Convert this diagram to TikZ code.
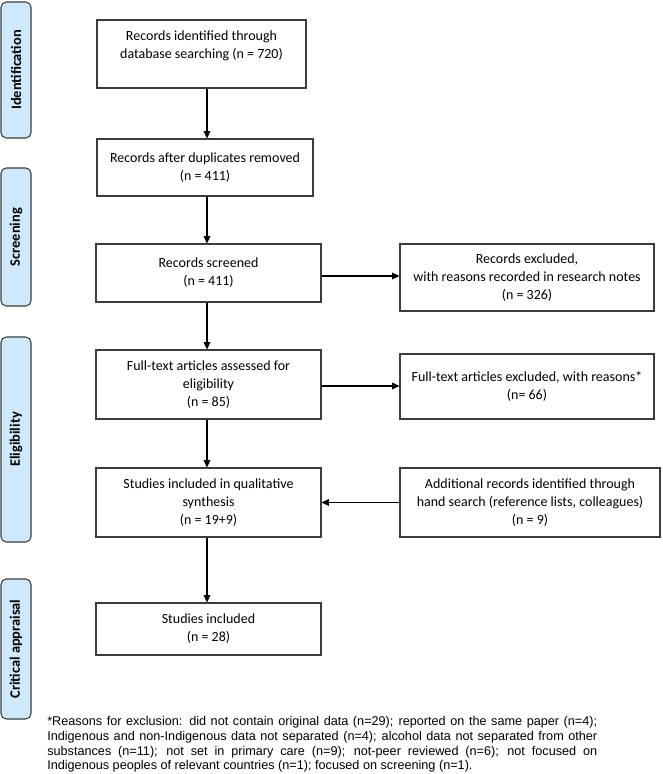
\documentclass[tikz,border=0pt]{standalone}
\usepackage{fontspec}
\setmainfont{Carlito}
\newfontfamily\notefont{Liberation Sans}
\usepackage{tikz}
\usetikzlibrary{positioning,arrows.meta}
\usepackage{xcolor}
\definecolor{stageblue}{RGB}{206,233,252}
\definecolor{boxgray}{RGB}{60,60,60}
\tikzset{mybox/.style={draw=boxgray, line width=0.8pt, fill=white, align=center, inner sep=2pt, font=\fontsize{10.5}{13.5}\selectfont}}
\tikzset{mystage/.style={draw=boxgray, line width=0.8pt, fill=stageblue, rounded corners=4pt, rotate=90, minimum height=22.5pt, inner sep=0pt, font=\bfseries\fontsize{10.8}{12}\selectfont}}
\tikzset{myarrow/.style={-{Triangle[length=5.5pt,width=5pt]}, line width=0.9pt}}

\begin{document}
\begin{tikzpicture}[x=0.75pt,y=-0.75pt]

	\useasboundingbox (0,0) rectangle (662,774);

	% stages on the left
	\node [mystage, minimum width=102pt] (sid) at (16,70) {Identification};
	\node [mystage, minimum width=103.5pt] (ssc) at (16,237) {Screening};
	\node [mystage, minimum width=153.75pt] (sel) at (16,439.5) {Eligibility};
	\node [mystage, minimum width=105pt] (sca) at (16,649) {Critical appraisal};

	% main column
	\node [mybox, minimum width=156.75pt, minimum height=51pt] (b1) at (201.5,54) {Records identified through\\database searching (n = 720)\\ ~};
	\node [mybox, minimum width=162pt, minimum height=42.75pt] (b2) at (205,167.5) {Records after duplicates removed\\(n = 411)};
	\node [mybox, minimum width=168.75pt, minimum height=43.5pt] (b3) at (208.5,273) {Records screened\\(n = 411)};
	\node [mybox, minimum width=168.75pt, minimum height=51.75pt] (b4) at (208.5,384.5) {Full-text articles assessed for\\eligibility\\(n = 85)};
	\node [mybox, minimum width=168.75pt, minimum height=51.75pt] (b5) at (208.5,502.5) {Studies included in qualitative\\synthesis\\(n = 19+9)};
	\node [mybox, minimum width=168.75pt, minimum height=39pt] (b6) at (208.5,629) {Studies included\\(n = 28)};

	% right column
	\node [mybox, minimum width=190.5pt, minimum height=50.25pt] (r1) at (527,277.5) {Records excluded,\\with reasons recorded in research notes\\(n = 326)};
	\node [mybox, minimum width=190.5pt, minimum height=48.75pt] (r2) at (527,386.5) {Full-text articles excluded, with reasons*\\(n= 66)};
	\node [mybox, minimum width=195pt, minimum height=51.75pt] (r3) at (530,502.5) {Additional records identified through\\hand search (reference lists, colleagues)\\(n = 9)};

	\coordinate (spine) at (207,0);

	\draw[myarrow] (b1.south -| spine) -- (b2.north -| spine);
	\draw[myarrow] (b2.south -| spine) -- (b3.north -| spine);
	\draw[myarrow] (b3.south -| spine) -- (b4.north -| spine);
	\draw[myarrow] (b4.south -| spine) -- (b5.north -| spine);
	\draw[myarrow] (b5.south -| spine) -- (b6.north -| spine);

	\draw[myarrow] ([yshift=-2.25pt]b3.east) -- ([yshift=-2.25pt]b3.east -| r1.west);
	\draw[myarrow] ([yshift=-1.1pt]b4.east) -- ([yshift=-1.1pt]b4.east -| r2.west);
	\draw[myarrow] (r3.west) -- (r3.west -| b5.east);

	% footnote
	\node [anchor=north west, inner sep=0pt, text width=412.5pt, align=justify, font=\notefont\fontsize{9.5}{10.9}\selectfont] (note) at (47,716.5) {\hyphenpenalty=10000 *Reasons for exclusion: did not contain original data (n=29); reported on the same paper (n=4);\linebreak Indigenous and non-Indigenous data not separated (n=4); alcohol data not separated from other\linebreak substances (n=11); not set in primary care (n=9); not-peer reviewed (n=6); not focused on\linebreak Indigenous peoples of relevant countries (n=1); focused on screening (n=1).};

\end{tikzpicture}
\end{document}
